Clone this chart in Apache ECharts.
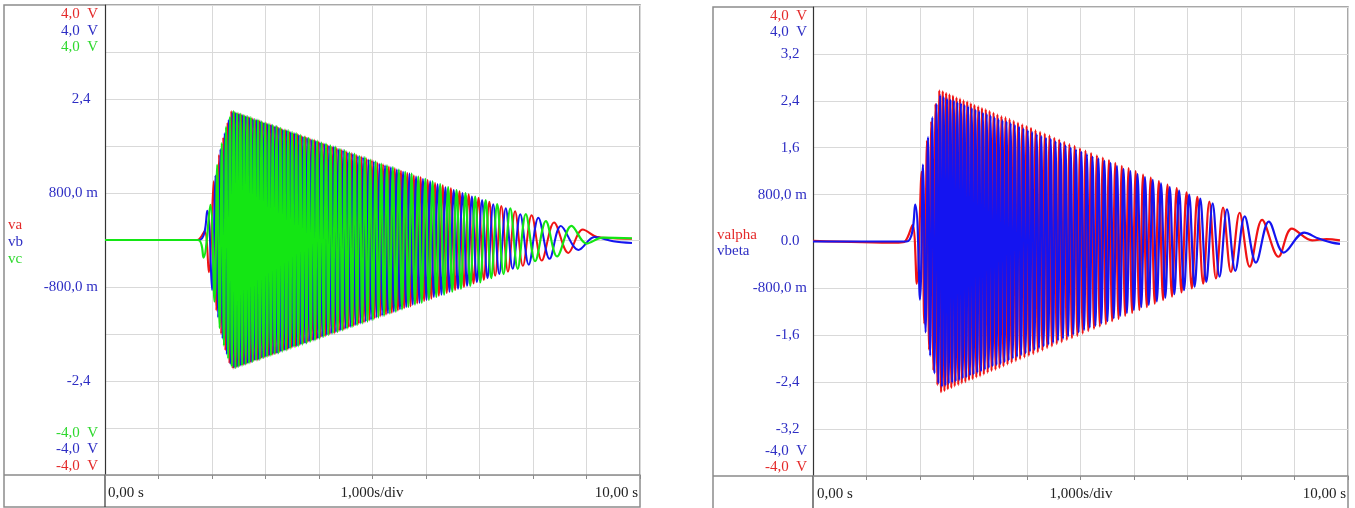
<!DOCTYPE html>
<html>
<head>
<meta charset="utf-8">
<title>va vb vc / valpha vbeta</title>
<script src="https://cdn.jsdelivr.net/npm/echarts/dist/echarts.min.js"></script>
<style>
  html, body { margin: 0; padding: 0; background: #fff; }
  #main { width: 1355px; height: 508px; }
</style>
</head>
<body>
<div id="main"></div>
<script>
// time axis, 1 s/div
const timeMin = 0;
const timeMax = 10;
const timeStep = 1;
const voltMin = -4;
const voltMax = 4;
const voltStep = 0.8;

// tick labels
const leftTickVals = [2.4, 0.8, -0.8, -2.4];
const leftTickLabels = ['2,4', '800,0 m', '-800,0 m', '-2,4'];
const rightTickVals = [3.2, 2.4, 1.6, 0.8, 0, -0.8, -1.6, -2.4, -3.2];
const rightTickLabels = ['3,2', '2,4', '1,6', '800,0 m', '0.0', '-800,0 m', '-1,6', '-2,4', '-3,2'];
const timeLabels = ['0,00 s', '1,000s/div', '10,00 s'];

// ---- left panel: extrema of each phase (time s, value V) ----
const vaT = [0, 1.72, 1.86, 1.94, 2.03, 2.08, 2.13, 2.17, 2.21, 2.25, 2.29, 2.325, 2.36,
  2.394, 2.425, 2.457, 2.489, 2.520, 2.552, 2.585, 2.617, 2.649, 2.682,
  2.715, 2.748, 2.781, 2.814, 2.848, 2.882, 2.916, 2.950, 2.984, 3.018,
  3.053, 3.088, 3.123, 3.158, 3.193, 3.229, 3.265, 3.301, 3.337, 3.374,
  3.411, 3.447, 3.485, 3.522, 3.560, 3.598, 3.636, 3.675, 3.713, 3.752,
  3.792, 3.831, 3.871, 3.911, 3.952, 3.993, 4.034, 4.075, 4.117, 4.159,
  4.202, 4.245, 4.288, 4.332, 4.376, 4.420, 4.465, 4.510, 4.556, 4.602,
  4.649, 4.696, 4.744, 4.792, 4.840, 4.890, 4.940, 4.990, 5.041, 5.093,
  5.145, 5.198, 5.252, 5.306, 5.361, 5.417, 5.474, 5.532, 5.591, 5.650,
  5.711, 5.772, 5.835, 5.899, 5.965, 6.031, 6.100, 6.169, 6.240, 6.313,
  6.388, 6.465, 6.544, 6.626, 6.710, 6.798, 6.888, 6.982, 7.081, 7.184,
  7.293, 7.408, 7.532, 7.665, 7.811, 7.974, 8.163, 8.394,
  8.66, 8.93, 9.20, 9.50, 9.85];
const vaV = [0, 0, 0.15, -0.55, 1.00, -1.20, 1.45, -1.60, 1.75, -1.88, 2.00, -2.10, 2.20,
  -2.19, 2.18, -2.17, 2.16, -2.15, 2.14, -2.13, 2.12, -2.11, 2.10,
  -2.09, 2.08, -2.06, 2.05, -2.05, 2.04, -2.02, 2.01, -2.00, 1.99,
  -1.98, 1.97, -1.96, 1.94, -1.94, 1.93, -1.91, 1.90, -1.88, 1.88,
  -1.87, 1.85, -1.84, 1.82, -1.82, 1.81, -1.79, 1.78, -1.76, 1.76,
  -1.74, 1.73, -1.71, 1.71, -1.69, 1.68, -1.66, 1.65, -1.64, 1.62,
  -1.61, 1.59, -1.59, 1.57, -1.55, 1.54, -1.53, 1.51, -1.49, 1.48,
  -1.47, 1.45, -1.43, 1.42, -1.41, 1.39, -1.37, 1.36, -1.34, 1.32,
  -1.30, 1.29, -1.27, 1.25, -1.24, 1.22, -1.20, 1.18, -1.16, 1.14,
  -1.13, 1.10, -1.08, 1.07, -1.04, 1.02, -1.00, 0.97, -0.95, 0.93,
  -0.90, 0.88, -0.85, 0.83, -0.80, 0.78, -0.74, 0.72, -0.68, 0.65,
  -0.61, 0.58, -0.54, 0.49, -0.44, 0.42, -0.35, 0.30,
  -0.22, 0.18, 0.05, 0.03, 0.02];

const vbT = [0, 1.76, 1.91, 2.00, 2.063, 2.113, 2.157, 2.197, 2.237, 2.277, 2.313, 2.348, 2.383,
  2.415, 2.446, 2.478, 2.510, 2.541, 2.574, 2.606, 2.638, 2.671, 2.704,
  2.737, 2.770, 2.803, 2.837, 2.871, 2.905, 2.939, 2.973, 3.007, 3.041,
  3.076, 3.111, 3.146, 3.181, 3.217, 3.253, 3.289, 3.325, 3.362, 3.399,
  3.435, 3.472, 3.510, 3.547, 3.585, 3.623, 3.662, 3.700, 3.739, 3.779,
  3.818, 3.858, 3.898, 3.938, 3.979, 4.020, 4.061, 4.103, 4.145, 4.188,
  4.231, 4.274, 4.317, 4.361, 4.405, 4.450, 4.495, 4.541, 4.587, 4.633,
  4.680, 4.728, 4.776, 4.824, 4.873, 4.923, 4.973, 5.024, 5.076, 5.128,
  5.180, 5.234, 5.288, 5.343, 5.398, 5.455, 5.513, 5.571, 5.630, 5.691,
  5.752, 5.814, 5.878, 5.943, 6.009, 6.077, 6.146, 6.216, 6.289, 6.363,
  6.439, 6.518, 6.599, 6.682, 6.769, 6.858, 6.951, 7.048, 7.150, 7.257,
  7.370, 7.491, 7.621, 7.762, 7.920,
  8.10, 8.31, 8.52, 8.85, 9.15, 9.50, 9.85];
const vbV = [0, 0, 0.50, -0.85, 1.10, -1.32, 1.55, -1.68, 1.82, -1.95, 2.05, -2.12, 2.18,
  -2.18, 2.17, -2.16, 2.15, -2.14, 2.13, -2.12, 2.11, -2.10, 2.09,
  -2.08, 2.06, -2.05, 2.05, -2.04, 2.02, -2.01, 2.00, -1.99, 1.98,
  -1.97, 1.96, -1.94, 1.94, -1.93, 1.91, -1.90, 1.88, -1.88, 1.87,
  -1.85, 1.84, -1.82, 1.82, -1.81, 1.79, -1.78, 1.76, -1.76, 1.74,
  -1.73, 1.71, -1.71, 1.69, -1.68, 1.66, -1.65, 1.64, -1.62, 1.61,
  -1.59, 1.59, -1.57, 1.55, -1.54, 1.53, -1.51, 1.49, -1.48, 1.47,
  -1.45, 1.43, -1.42, 1.41, -1.39, 1.37, -1.36, 1.34, -1.32, 1.30,
  -1.29, 1.27, -1.25, 1.24, -1.22, 1.20, -1.18, 1.16, -1.14, 1.13,
  -1.10, 1.08, -1.07, 1.04, -1.02, 1.00, -0.97, 0.95, -0.93, 0.90,
  -0.88, 0.85, -0.83, 0.80, -0.78, 0.74, -0.72, 0.68, -0.65, 0.61,
  -0.58, 0.54, -0.49, 0.44, -0.42,
  0.38, -0.32, 0.24, -0.17, 0.05, -0.02, -0.05];

const vcT = [0, 1.74, 1.84, 1.97, 2.047, 2.097, 2.143, 2.183, 2.223, 2.263, 2.302, 2.337, 2.371, 2.404,
  2.436, 2.468, 2.499, 2.531, 2.563, 2.596, 2.628, 2.660, 2.693, 2.726,
  2.759, 2.792, 2.825, 2.859, 2.893, 2.927, 2.961, 2.995, 3.030, 3.065,
  3.100, 3.135, 3.170, 3.205, 3.241, 3.277, 3.313, 3.349, 3.386, 3.423,
  3.460, 3.497, 3.535, 3.573, 3.611, 3.649, 3.688, 3.726, 3.765, 3.805,
  3.844, 3.884, 3.925, 3.966, 4.007, 4.048, 4.089, 4.131, 4.173, 4.216,
  4.259, 4.303, 4.347, 4.391, 4.435, 4.480, 4.525, 4.571, 4.618, 4.665,
  4.712, 4.760, 4.808, 4.857, 4.907, 4.957, 5.007, 5.058, 5.110, 5.163,
  5.216, 5.270, 5.324, 5.380, 5.436, 5.493, 5.552, 5.611, 5.670, 5.731,
  5.793, 5.856, 5.921, 5.987, 6.054, 6.123, 6.193, 6.264, 6.338, 6.414,
  6.491, 6.571, 6.654, 6.739, 6.828, 6.919, 7.015, 7.115, 7.220, 7.331,
  7.449, 7.576, 7.714, 7.865,
  8.04, 8.24, 8.45, 8.72, 9.00, 9.30, 9.85];
const vcV = [0, 0, -0.30, 0.60, -1.05, 1.28, -1.50, 1.65, -1.80, 1.93, -2.02, 2.10, -2.16, 2.20,
  -2.18, 2.17, -2.16, 2.15, -2.14, 2.13, -2.12, 2.11, -2.10, 2.09,
  -2.08, 2.06, -2.05, 2.05, -2.04, 2.02, -2.01, 2.00, -1.99, 1.98,
  -1.97, 1.96, -1.94, 1.94, -1.93, 1.91, -1.90, 1.88, -1.88, 1.87,
  -1.85, 1.84, -1.82, 1.82, -1.81, 1.79, -1.78, 1.76, -1.76, 1.74,
  -1.73, 1.71, -1.71, 1.69, -1.68, 1.66, -1.65, 1.64, -1.62, 1.61,
  -1.59, 1.59, -1.57, 1.55, -1.54, 1.53, -1.51, 1.49, -1.48, 1.47,
  -1.45, 1.43, -1.42, 1.41, -1.39, 1.37, -1.36, 1.34, -1.32, 1.30,
  -1.29, 1.27, -1.25, 1.24, -1.22, 1.20, -1.18, 1.16, -1.14, 1.13,
  -1.10, 1.08, -1.07, 1.04, -1.02, 1.00, -0.97, 0.95, -0.93, 0.90,
  -0.88, 0.85, -0.83, 0.80, -0.78, 0.74, -0.72, 0.68, -0.65, 0.61,
  -0.58, 0.54, -0.49, 0.44,
  -0.36, 0.32, -0.28, 0.24, -0.06, 0.04, 0.03];

// ---- right panel: alpha / beta extrema ----
const valphaT = [0, 1.60, 1.72, 1.86, 1.94, 2.03, 2.08, 2.13, 2.17, 2.21, 2.25, 2.29, 2.325, 2.36,
  2.394, 2.425, 2.457, 2.489, 2.520, 2.552, 2.585, 2.617, 2.649, 2.682,
  2.715, 2.748, 2.781, 2.814, 2.848, 2.882, 2.916, 2.950, 2.984, 3.018,
  3.053, 3.088, 3.123, 3.158, 3.193, 3.229, 3.265, 3.301, 3.337, 3.374,
  3.411, 3.447, 3.485, 3.522, 3.560, 3.598, 3.636, 3.675, 3.713, 3.752,
  3.792, 3.831, 3.871, 3.911, 3.952, 3.993, 4.034, 4.075, 4.117, 4.159,
  4.202, 4.245, 4.288, 4.332, 4.376, 4.420, 4.465, 4.510, 4.556, 4.602,
  4.649, 4.696, 4.744, 4.792, 4.840, 4.890, 4.940, 4.990, 5.041, 5.093,
  5.145, 5.198, 5.252, 5.306, 5.361, 5.417, 5.474, 5.532, 5.591, 5.650,
  5.711, 5.772, 5.835, 5.899, 5.965, 6.031, 6.100, 6.169, 6.240, 6.313,
  6.388, 6.465, 6.544, 6.626, 6.710, 6.798, 6.888, 6.982, 7.081, 7.184,
  7.293, 7.408, 7.532, 7.665, 7.811, 7.974, 8.163, 8.394,
  8.70, 8.95, 9.33, 9.60, 9.85];
const valphaV = [0.01, -0.02, 0, 0.28, -0.72, 1.19, -1.40, 1.72, -1.85, 2.05, -2.20, 2.35, -2.45, 2.58,
  -2.57, 2.56, -2.55, 2.53, -2.52, 2.51, -2.50, 2.49, -2.47, 2.46,
  -2.45, 2.44, -2.42, 2.41, -2.40, 2.39, -2.37, 2.36, -2.35, 2.33,
  -2.32, 2.31, -2.30, 2.28, -2.27, 2.26, -2.24, 2.23, -2.21, 2.20,
  -2.19, 2.17, -2.16, 2.14, -2.13, 2.12, -2.10, 2.09, -2.07, 2.06,
  -2.04, 2.03, -2.01, 2.00, -1.98, 1.97, -1.95, 1.94, -1.92, 1.90,
  -1.89, 1.87, -1.86, 1.84, -1.82, 1.81, -1.79, 1.77, -1.75, 1.74,
  -1.72, 1.70, -1.68, 1.66, -1.65, 1.63, -1.61, 1.59, -1.57, 1.55,
  -1.53, 1.51, -1.49, 1.47, -1.45, 1.43, -1.41, 1.39, -1.36, 1.34,
  -1.32, 1.29, -1.27, 1.25, -1.22, 1.20, -1.17, 1.14, -1.12, 1.09,
  -1.06, 1.03, -1.00, 0.97, -0.94, 0.91, -0.87, 0.84, -0.80, 0.76,
  -0.72, 0.68, -0.63, 0.58, -0.52, 0.49, -0.43, 0.37,
  -0.26, 0.22, 0.02, 0.04, 0.02];

const vbetaT = [0, 1.75, 1.91, 2.00, 2.055, 2.105, 2.15, 2.19, 2.23, 2.27, 2.31, 2.343, 2.377,
  2.410, 2.441, 2.473, 2.505, 2.536, 2.569, 2.601, 2.633, 2.666, 2.699,
  2.732, 2.765, 2.798, 2.831, 2.865, 2.899, 2.933, 2.967, 3.001, 3.036,
  3.071, 3.106, 3.141, 3.176, 3.211, 3.247, 3.283, 3.319, 3.356, 3.393,
  3.429, 3.466, 3.504, 3.541, 3.579, 3.617, 3.656, 3.694, 3.733, 3.772,
  3.812, 3.851, 3.891, 3.932, 3.973, 4.014, 4.055, 4.096, 4.138, 4.181,
  4.224, 4.267, 4.310, 4.354, 4.398, 4.443, 4.488, 4.533, 4.579, 4.626,
  4.673, 4.720, 4.768, 4.816, 4.865, 4.915, 4.965, 5.016, 5.067, 5.119,
  5.172, 5.225, 5.279, 5.334, 5.389, 5.446, 5.503, 5.562, 5.621, 5.681,
  5.742, 5.804, 5.867, 5.932, 5.998, 6.066, 6.135, 6.205, 6.277, 6.351,
  6.427, 6.505, 6.585, 6.668, 6.754, 6.843, 6.935, 7.032, 7.133, 7.239,
  7.351, 7.470, 7.599, 7.738, 7.893,
  8.069, 8.279, 8.52, 8.80, 9.18, 9.45, 9.70, 9.85];
const vbetaV = [0, 0, 0.63, -0.99, 1.31, -1.55, 1.78, -1.95, 2.12, -2.25, 2.35, -2.42, 2.50,
  -2.48, 2.47, -2.46, 2.44, -2.43, 2.42, -2.41, 2.41, -2.39, 2.38,
  -2.37, 2.36, -2.34, 2.33, -2.32, 2.31, -2.29, 2.28, -2.27, 2.25,
  -2.24, 2.23, -2.22, 2.20, -2.19, 2.18, -2.16, 2.15, -2.13, 2.12,
  -2.11, 2.09, -2.09, 2.07, -2.06, 2.05, -2.03, 2.02, -2.00, 1.99,
  -1.97, 1.96, -1.94, 1.93, -1.91, 1.90, -1.88, 1.87, -1.85, 1.83,
  -1.82, 1.80, -1.79, 1.77, -1.76, 1.75, -1.73, 1.71, -1.69, 1.68,
  -1.66, 1.64, -1.62, 1.60, -1.59, 1.57, -1.55, 1.53, -1.51, 1.49,
  -1.47, 1.45, -1.44, 1.42, -1.40, 1.38, -1.36, 1.34, -1.31, 1.29,
  -1.27, 1.24, -1.22, 1.20, -1.17, 1.15, -1.12, 1.10, -1.08, 1.05,
  -1.02, 0.99, -0.96, 0.93, -0.90, 0.87, -0.83, 0.80, -0.77, 0.73,
  -0.69, 0.65, -0.60, 0.55, -0.50,
  0.43, -0.36, 0.34, -0.19, 0.15, 0.05, -0.02, -0.04];

const RED = '#f01414';
const BLUE = '#1414f0';
const GREEN = '#14e614';
const LBL_RED = '#e42a2a';
const LBL_BLUE = '#2e2ec4';
const LBL_GREEN = '#2ed82e';
const FONT = '15px "Liberation Serif"';

// pair time/value arrays for the line series
function pairs(t, v) {
  return t.map((x, i) => [x, v[i]]);
}

function tickFormatter(vals, labels) {
  return function (v) {
    const i = vals.findIndex(t => Math.abs(t - v) < 1e-6);
    if (i < 0) return '';
    const s = labels[i];
    // values without unit sit a bit further left
    return s.endsWith('m') ? s : s + '\u2002';
  };
}

function txt(x, y, text, color, align) {
  return {
    type: 'text', x: x, y: y, silent: true, z: 10,
    style: { text: text, fill: color, font: FONT, align: align || 'left', verticalAlign: 'middle' }
  };
}

function hline(x1, x2, y, color, w) {
  return { type: 'line', silent: true, shape: { x1: x1, y1: y, x2: x2, y2: y }, style: { stroke: color, lineWidth: w || 1 } };
}
function vline(x, y1, y2, color, w) {
  return { type: 'line', silent: true, shape: { x1: x, y1: y1, x2: x, y2: y2 }, style: { stroke: color, lineWidth: w || 1 } };
}

const gridL = { left: 105, top: 5, width: 535, height: 470 };
const gridR = { left: 813, top: 7, width: 535, height: 469 };

function xAxisOf(idx) {
  return {
    type: 'value', gridIndex: idx, min: timeMin, max: timeMax, interval: timeStep,
    axisLine: { show: true, onZero: false, lineStyle: { color: '#8a8a8a', width: 1.5 } },
    axisTick: { show: true, length: 4, lineStyle: { color: '#8a8a8a' } },
    axisLabel: { show: false },
    splitLine: { show: true, lineStyle: { color: '#d9d9d9', width: 1 } }
  };
}
function yAxisOf(idx, vals, labels, margin) {
  return {
    type: 'value', gridIndex: idx, min: voltMin, max: voltMax, interval: voltStep,
    axisLine: { show: true, onZero: false, lineStyle: { color: '#333', width: 1.2 } },
    axisTick: { show: false },
    axisLabel: {
      color: LBL_BLUE, fontFamily: 'Liberation Serif', fontSize: 15, margin: margin,
      formatter: tickFormatter(vals, labels)
    },
    splitLine: { show: true, lineStyle: { color: '#d9d9d9', width: 1 } }
  };
}

function trace(name, t, v, color, idx, w) {
  return {
    name: name, type: 'line', xAxisIndex: idx, yAxisIndex: idx,
    data: pairs(t, v), showSymbol: false, smooth: 0.35,
    lineStyle: { color: color, width: w }, itemStyle: { color: color },
    animation: false
  };
}

const chart = echarts.init(document.getElementById('main'));
chart.setOption({
  animation: false,
  backgroundColor: '#fff',
  grid: [gridL, gridR],
  xAxis: [xAxisOf(0), xAxisOf(1)],
  yAxis: [
    yAxisOf(0, leftTickVals, leftTickLabels, 7),
    yAxisOf(1, rightTickVals, rightTickLabels, 6)
  ],
  series: [
    trace('va', vaT, vaV, RED, 0, 2),
    trace('vb', vbT, vbV, BLUE, 0, 2),
    trace('vc', vcT, vcV, GREEN, 0, 2.2),
    trace('valpha', valphaT, valphaV, RED, 1, 2.2),
    trace('vbeta', vbetaT, vbetaV, BLUE, 1, 2.2)
  ],
  graphic: [
    // panel frames
    { type: 'rect', silent: true, shape: { x: 4, y: 5, width: 636, height: 502 }, style: { fill: 'none', stroke: '#8c8c8c', lineWidth: 1.5 } },
    { type: 'rect', silent: true, shape: { x: 713, y: 7, width: 635, height: 502 }, style: { fill: 'none', stroke: '#8c8c8c', lineWidth: 1.5 } },
    hline(4, 105, 475, '#8a8a8a', 1.5), vline(105, 475, 507, '#333', 1.2),
    hline(713, 813, 476, '#8a8a8a', 1.5), vline(813, 476, 508, '#333', 1.2),

    // left panel scale ends and legend
    txt(98, 14, '4,0\u2002V', LBL_RED, 'right'),
    txt(98, 31, '4,0\u2002V', LBL_BLUE, 'right'),
    txt(98, 47, '4,0\u2002V', LBL_GREEN, 'right'),
    txt(98, 433, '-4,0\u2002V', LBL_GREEN, 'right'),
    txt(98, 449, '-4,0\u2002V', LBL_BLUE, 'right'),
    txt(98, 466, '-4,0\u2002V', LBL_RED, 'right'),
    txt(8, 225, 'va', LBL_RED),
    txt(8, 242, 'vb', LBL_BLUE),
    txt(8, 259, 'vc', LBL_GREEN),
    txt(108, 493, timeLabels[0], '#222'),
    txt(372, 493, timeLabels[1], '#222', 'center'),
    txt(638, 493, timeLabels[2], '#222', 'right'),

    // right panel scale ends and legend
    txt(807, 16, '4,0\u2002V', LBL_RED, 'right'),
    txt(807, 32, '4,0\u2002V', LBL_BLUE, 'right'),
    txt(807, 451, '-4,0\u2002V', LBL_BLUE, 'right'),
    txt(807, 467, '-4,0\u2002V', LBL_RED, 'right'),
    txt(717, 235, 'valpha', LBL_RED),
    txt(717, 251, 'vbeta', LBL_BLUE),
    txt(817, 494, timeLabels[0], '#222'),
    txt(1081, 494, timeLabels[1], '#222', 'center'),
    txt(1346, 494, timeLabels[2], '#222', 'right')
  ]
});
</script>
</body>
</html>
